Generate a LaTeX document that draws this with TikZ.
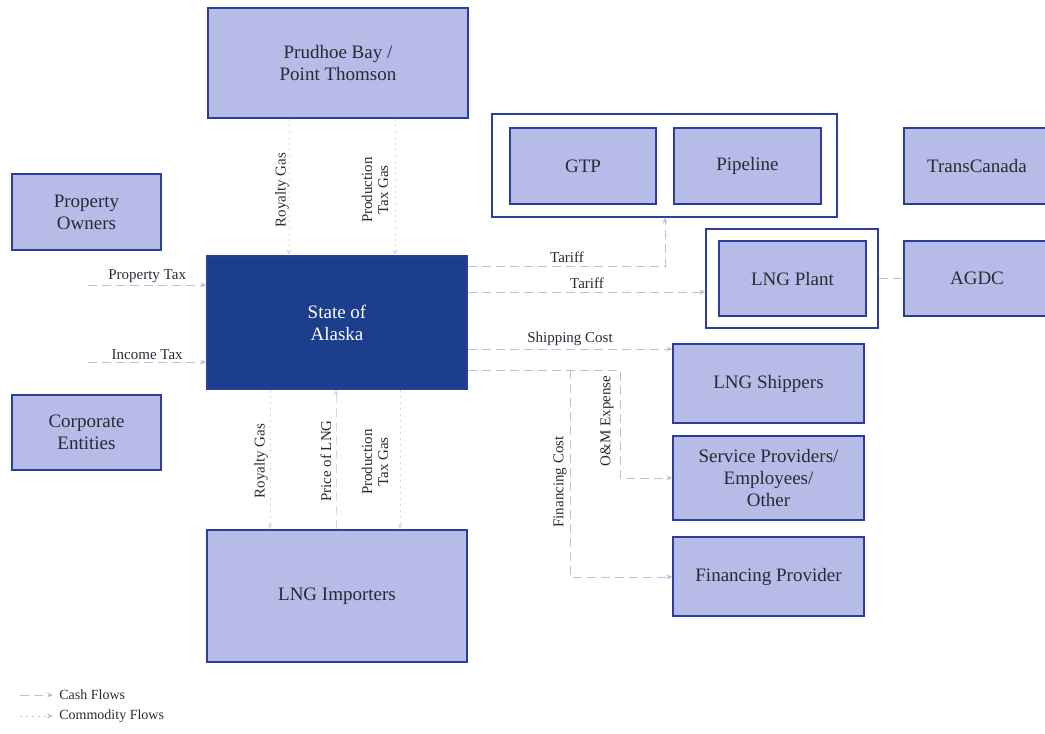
\documentclass[tikz,border=0pt]{standalone}
\usepackage{fontspec}
\setmainfont{Liberation Serif}
\usetikzlibrary{arrows.meta,calc}
\definecolor{boxfill}{HTML}{B6BBE7}
\definecolor{boxline}{HTML}{2B3F98}
\definecolor{soafill}{HTML}{1C3E8C}
\definecolor{flow}{HTML}{BCC0DC}
\definecolor{txt}{HTML}{2A2A35}
\tikzset{
  entity/.style={draw=boxline, line width=1.3pt, fill=boxfill, align=center,
    font=\fontsize{19}{22}\selectfont, text=txt, inner sep=0pt},
  frame/.style={draw=boxline, line width=1.3pt, fill=none},
  cash/.style={draw=flow, line width=0.8pt, dash pattern=on 9pt off 5pt,
    -{Stealth[length=6pt,width=5pt]}},
  commodity/.style={draw=flow, line width=0.7pt, dash pattern=on 2pt off 4pt,
    -{Stealth[length=6pt,width=5pt]}},
  plainflow/.style={draw=flow, line width=0.8pt, dash pattern=on 9pt off 5pt},
  lbl/.style={font=\fontsize{15}{16}\selectfont, text=txt, align=center, inner sep=1pt},
  vlbl/.style={lbl, rotate=90},
}
\begin{document}
\begin{tikzpicture}[x=1pt,y=-1pt]
\useasboundingbox (0,0) rectangle (1045,734);

% entities
\node[entity, minimum width=260pt, minimum height=110pt] (prudhoe) at (338,63) {Prudhoe Bay /\\Point Thomson};
\node[entity, minimum width=149pt, minimum height=76pt] (owners) at (86.5,212) {Property\\Owners};
\node[entity, minimum width=149pt, minimum height=75pt] (corp) at (86.5,432.5) {Corporate\\Entities};
\node[entity, fill=soafill, text=white, minimum width=260pt, minimum height=133pt] (soa) at (337,322.5) {State of\\Alaska};
\node[entity, minimum width=260pt, minimum height=132pt] (importers) at (337,596) {LNG Importers};

\node[frame, minimum width=345pt, minimum height=103pt] (ppframe) at (664.5,165.5) {};
\node[entity, minimum width=146pt, minimum height=76pt] (gtp) at (583,166) {GTP};
\node[entity, minimum width=147pt, minimum height=76pt] (pipeline) at (747.5,166) {Pipeline};
\node[entity, minimum width=146pt, minimum height=76pt] (transcanada) at (977,166) {TransCanada};

\node[frame, minimum width=172pt, minimum height=99pt] (lngframe) at (792,278.5) {};
\node[entity, minimum width=147pt, minimum height=75pt] (lngplant) at (792.5,278.5) {LNG Plant};
\node[entity, minimum width=146pt, minimum height=75pt] (agdc) at (977,278.5) {AGDC};

\node[entity, minimum width=191pt, minimum height=79pt] (shippers) at (768.5,383.5) {LNG Shippers};
\node[entity, minimum width=191pt, minimum height=84pt] (service) at (768.5,478) {Service Providers/\\Employees/\\Other};
\node[entity, minimum width=191pt, minimum height=79pt] (finprov) at (768.5,576.5) {Financing Provider};

% taxes from the left
\coordinate (ptax) at (88,285);
\coordinate (itax) at (88,362);
\draw[cash] (ptax) -- (ptax -| soa.west) node[lbl, midway, above=1pt] {Property Tax};
\draw[cash] (itax) -- (itax -| soa.west) node[lbl, midway, above=1pt] {Income Tax};

% gas delivered to the State
\draw[commodity, draw=flow!60] (prudhoe.south -| 289,0) -- (soa.north -| 289,0);
\draw[commodity, draw=flow!60] (prudhoe.south -| 395,0) -- (soa.north -| 395,0);
\node[vlbl] at (282,190) {Royalty Gas};
\node[vlbl] at (375,190) {Production\\Tax Gas};

% between the State and the importers
\draw[commodity, draw=flow!60] (soa.south -| 270,0) -- (importers.north -| 270,0);
\draw[commodity, draw=flow!60] (soa.south -| 400,0) -- (importers.north -| 400,0);
\draw[cash, draw=flow!60] (importers.north -| 336,0) -- (soa.south -| 336,0);
\node[vlbl] at (261,461) {Royalty Gas};
\node[vlbl] at (326,461) {Price of LNG};
\node[vlbl] at (375,462) {Production\\Tax Gas};

% tariffs
\coordinate (t1) at (665,266);
\draw[cash] (soa.east |- t1) -- (t1) -- (ppframe.south -| t1);
\node[lbl] at (567,257) {Tariff};
\draw[cash] (soa.east |- 0,292) -- (lngframe.west |- 0,292);
\node[lbl] at (587,283) {Tariff};
\draw[plainflow] (lngframe.east) -- (agdc.west);

% shipping, O&M and financing
\draw[cash] (soa.east |- 0,349) -- (shippers.west |- 0,349);
\node[lbl] at (570,339) {Shipping Cost};

\coordinate (fc) at (570,370);
\coordinate (fcd) at (570,577);
\coordinate (om) at (620,370);
\coordinate (omd) at (620,478);
\draw[cash] (soa.east |- om) -- (om) -- (omd) -- (service.west |- omd);
\draw[cash] (fc) -- (fcd) -- (finprov.west |- fcd);
\node[vlbl] at (560,482) {Financing Cost};
\node[vlbl] at (607,421) {O\&M Expense};

% legend
\coordinate (lc) at (20,695);
\coordinate (lm) at (20,716);
\draw[cash] (lc) -- ++(33,0) node[lbl, right=5pt, font=\fontsize{14}{15}\selectfont] {Cash Flows};
\draw[commodity] (lm) -- ++(33,0) node[lbl, right=5pt, font=\fontsize{14}{15}\selectfont] {Commodity Flows};
\end{tikzpicture}
\end{document}
